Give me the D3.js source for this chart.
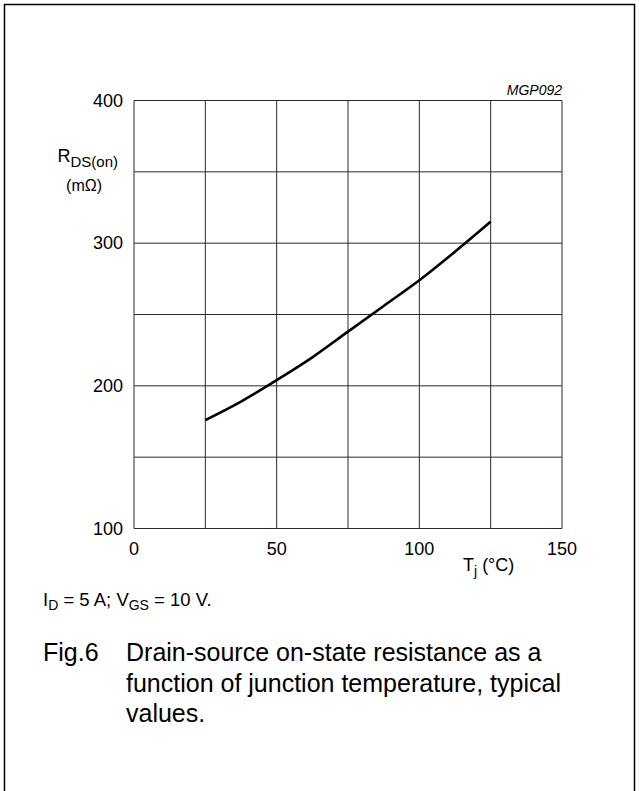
<!DOCTYPE html>
<html><head><meta charset="utf-8">
<script src="https://cdn.jsdelivr.net/npm/d3@7"></script>
<style>body{margin:0;background:#fff}</style>
</head><body>
<script>
const temps = [25, 37.5, 50, 62.5, 75, 87.5, 100, 112.5, 125];
const rdson = [176, 189, 204, 220, 238, 256, 274, 294, 315];
const xTicks = [0, 50, 100, 150];
const yTicks = [100, 200, 300, 400];
const xGrid = [0, 25, 50, 75, 100, 125, 150];
const yGrid = [100, 150, 200, 250, 300, 350, 400];

const W = 639, H = 791;
const svg = d3.select("body").append("svg").attr("width", W).attr("height", H)
  .style("font-family", "'Liberation Sans', Arial, sans-serif");

svg.append("path").attr("d", "M4.5,795 V4.5 H634.5 V795")
  .attr("fill", "none").attr("stroke", "#000").attr("stroke-width", 1.5);

const x = d3.scaleLinear().domain([0, 150]).range([134, 562]);
const y = d3.scaleLinear().domain([100, 400]).range([528.5, 100.5]);

const g = svg.append("g");
g.selectAll(".vg").data(xGrid).join("line")
  .attr("x1", d => x(d)).attr("x2", d => x(d)).attr("y1", y(100)).attr("y2", y(400))
  .attr("stroke", "#2a2a2a").attr("stroke-width", 1);
g.selectAll(".hg").data(yGrid).join("line")
  .attr("y1", d => y(d)).attr("y2", d => y(d)).attr("x1", x(0)).attr("x2", x(150))
  .attr("stroke", "#2a2a2a").attr("stroke-width", 1);

svg.selectAll(".yt").data(yTicks).join("text")
  .attr("x", 123).attr("y", d => y(d)).attr("dy", "0.35em")
  .attr("text-anchor", "end").attr("font-size", 18).text(d => d);
svg.selectAll(".xt").data(xTicks).join("text")
  .attr("x", d => x(d)).attr("y", 555)
  .attr("text-anchor", "middle").attr("font-size", 18).text(d => d);

const line = d3.line().x((d, i) => x(temps[i])).y(d => y(d)).curve(d3.curveMonotoneX);
svg.append("path").datum(rdson).attr("d", line)
  .attr("fill", "none").attr("stroke", "#000").attr("stroke-width", 2.6);

svg.append("text").attr("x", 562).attr("y", 95).attr("text-anchor", "end")
  .attr("font-size", 14).attr("font-style", "italic").text("MGP092");

const yl = svg.append("text").attr("x", 118).attr("y", 162).attr("text-anchor", "end").attr("font-size", 18);
yl.append("tspan").text("R");
yl.append("tspan").attr("font-size", 15).attr("dy", 5).text("DS(on)");
svg.append("text").attr("x", 102).attr("y", 191).attr("text-anchor", "end")
  .attr("font-size", 16).text("(mΩ)");

const xl = svg.append("text").attr("x", 463).attr("y", 571).attr("font-size", 18);
xl.append("tspan").text("T");
xl.append("tspan").attr("font-size", 14).attr("dy", 5).text("j");
xl.append("tspan").attr("dy", -5).text(" (°C)");

const note = svg.append("text").attr("x", 43).attr("y", 606).attr("font-size", 18.5);
note.append("tspan").text("I");
note.append("tspan").attr("font-size", 14).attr("dy", 4).text("D");
note.append("tspan").attr("dy", -4).text(" = 5 A; V");
note.append("tspan").attr("font-size", 14).attr("dy", 4).text("GS");
note.append("tspan").attr("dy", -4).text(" = 10 V.");

const capLines = ["Drain-source on-state resistance as a", "function of junction temperature, typical", "values."];
svg.append("text").attr("x", 43).attr("y", 661).attr("font-size", 25).text("Fig.6");
svg.selectAll(".cap").data(capLines).join("text")
  .attr("x", 126).attr("y", (d, i) => 661 + i * 30.5).attr("font-size", 25).text(d => d);
</script>
</body></html>
